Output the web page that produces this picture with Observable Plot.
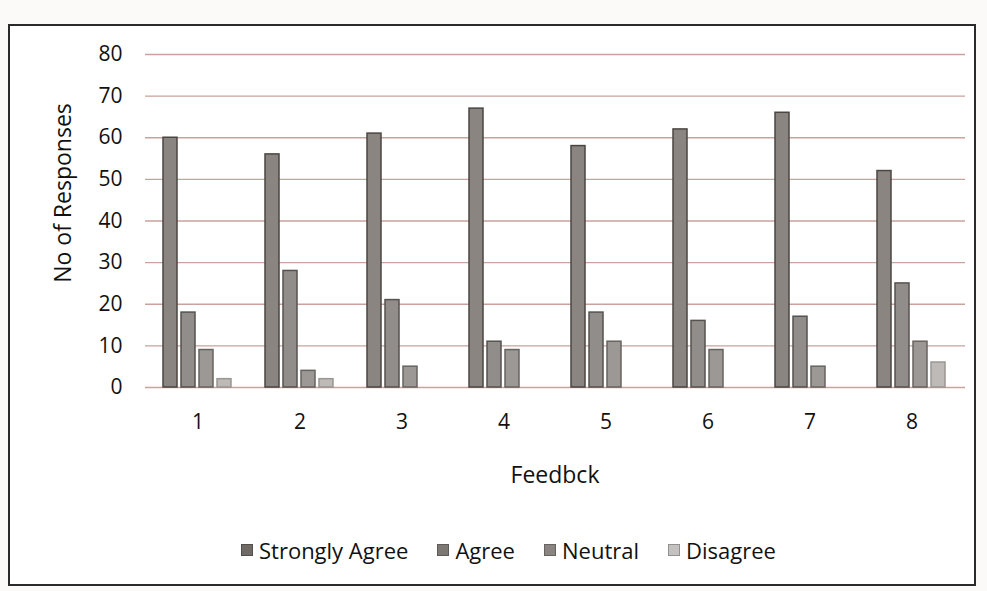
<!DOCTYPE html>
<html>
<head>
<meta charset="utf-8">
<script src="https://cdn.jsdelivr.net/npm/d3@7"></script>
<script src="https://cdn.jsdelivr.net/npm/@observablehq/plot@0.6"></script>
<style>
  body { margin: 0; background: #fff; }
  #wrap { position: relative; width: 987px; height: 591px; overflow: hidden; background: #fbfaf9; font-family: "Open Sans", sans-serif; color: #111; }
  #frame { position: absolute; left: 8px; top: 24px; width: 964px; height: 558px; border: 2px solid #2a2a2a; background: #fff; }
  .layer { position: absolute; left: 0; top: 0; }
  #xlabel { position: absolute; left: 0; width: 1110px; top: 458px; text-align: center; font-size: 23px; }
  #ylabel { position: absolute; left: 62px; top: 193px; transform: translate(-50%, -50%) rotate(-90deg); font-size: 23px; white-space: nowrap; }
  #legend { position: absolute; top: 535px; left: 241px; display: flex; align-items: center; font-size: 22px; white-space: nowrap; }
  #legend .item { display: flex; align-items: center; margin-right: 29px; }
  #legend .sw { width: 10px; height: 10px; margin-right: 6px; border: 1px solid rgba(0,0,0,0.25); }
</style>
</head>
<body>
<div id="wrap">
  <div id="frame"></div>
  <div id="grid" class="layer"></div>
  <div id="bars" class="layer"></div>
  <div id="ylabel">No of Responses</div>
  <div id="xlabel">Feedbck</div>
  <div id="legend"></div>
</div>
<script>
const groups = ["1", "2", "3", "4", "5", "6", "7", "8"];
const series = ["Strongly Agree", "Agree", "Neutral", "Disagree"];
const stronglyAgree = [60, 56, 61, 67, 58, 62, 66, 52];
const agree = [18, 28, 21, 11, 18, 16, 17, 25];
const neutral = [9, 4, 5, 9, 11, 9, 5, 11];
const disagree = [2, 2, 0, 0, 0, 0, 0, 6];
const yTicks = [0, 10, 20, 30, 40, 50, 60, 70, 80];
const fills = ["#8a8581", "#918d8a", "#9b9895", "#bdbab8"];
const strokes = ["#4b4642", "#57524e", "#68635f", "#9a9692"];
const swatches = ["#6f6a66", "#7d7874", "#8a8580", "#c4c2c1"];

const seriesValues = [stronglyAgree, agree, neutral, disagree];
const data = [];
groups.forEach((g, i) => {
  series.forEach((s, j) => {
    data.push({group: g, series: s, value: seriesValues[j][i]});
  });
});

const common = {
  width: 987,
  height: 500,
  marginLeft: 145,
  marginRight: 22,
  marginTop: 54,
  marginBottom: 113,
  style: {fontSize: "21px", fontFamily: "Open Sans, sans-serif", color: "#111", background: "transparent"},
  y: {domain: [0, 80], ticks: yTicks, label: null}
};

const gridPlot = Plot.plot({
  ...common,
  x: {axis: null},
  marks: [
    Plot.gridY(yTicks, {stroke: "#c9a29d", strokeOpacity: 1, strokeWidth: 1.3}),
    Plot.axisY(yTicks, {tickSize: 0, tickPadding: 23, label: null, fontSize: 21})
  ]
});
document.getElementById("grid").appendChild(gridPlot);

const barPlot = Plot.plot({
  ...common,
  fx: {domain: groups, paddingInner: 0.3, paddingOuter: 0.15, label: null},
  x: {domain: series, paddingInner: 0.2, paddingOuter: 0.04, axis: null},
  y: {domain: [0, 80], axis: null},
  color: {domain: series, range: fills},
  marks: [
    Plot.axisFx({anchor: "bottom", tickSize: 0, tickPadding: 27, label: null, fontSize: 21}),
    Plot.barY(data, {fx: "group", x: "series", y: "value", fill: "series",
      stroke: (d) => strokes[series.indexOf(d.series)], strokeWidth: 1.5})
  ]
});
document.getElementById("bars").appendChild(barPlot);

const legend = document.getElementById("legend");
series.forEach((s, j) => {
  const item = document.createElement("div");
  item.className = "item";
  const sw = document.createElement("span");
  sw.className = "sw";
  sw.style.background = swatches[j];
  const t = document.createElement("span");
  t.textContent = s;
  item.appendChild(sw);
  item.appendChild(t);
  legend.appendChild(item);
});
</script>
</body>
</html>
